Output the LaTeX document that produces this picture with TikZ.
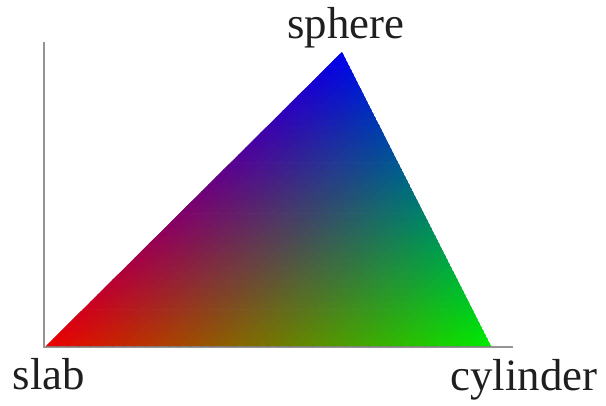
\documentclass[tikz,border=0pt]{standalone}
\usepackage{fontspec}
\setmainfont{Liberation Serif}
\begin{document}
\begin{tikzpicture}[x=1bp,y=-1bp,
  lbl/.style={font=\fontsize{45}{50}\selectfont, text=black!88, inner sep=0pt, anchor=base},
  axisline/.style={draw=black, draw opacity=0.42, line width=2.4bp},
  patch/.style={fill=tc, draw=tc, line width=0.9bp, line join=round}]
\useasboundingbox (0,0) rectangle (606,405);
\coordinate (slab) at (46,346);
\coordinate (cyl) at (491,346);
\coordinate (sph) at (342,52);
\coordinate (orig) at (44,347);
\coordinate (ytop) at (44,42);
\coordinate (xend) at (513,347);
\def\N{40}
% Gouraud-like shading by subdivision: slab = red, cylinder = green, sphere = blue
\begin{scope}[shift={(slab)}, x={(11.125bp,0bp)}, y={(7.4bp,7.35bp)}]
\clip (0,0) -- (40,0) -- (0,40) -- cycle;
\foreach \i in {0,...,39} {
  \pgfmathtruncatemacro\jmax{\N-1-\i}
  \foreach \j in {0,...,\jmax} {
    \pgfmathsetmacro\wb{(\i+1/3)/\N}
    \pgfmathsetmacro\wc{(\j+1/3)/\N}
    \pgfmathsetmacro\wa{max(0,1-\wb-\wc)}
    \pgfmathsetmacro\cr{0.93*\wa}
    \pgfmathsetmacro\cg{0.92*\wb}
    \pgfmathsetmacro\cb{0.92*\wc}
    \definecolor{tc}{rgb}{\cr,\cg,\cb}
    \path[patch] (\i,\j) -- (\i+1,\j) -- (\i,\j+1) -- cycle;
    \ifnum\j<\jmax
      \pgfmathsetmacro\wb{(\i+2/3)/\N}
      \pgfmathsetmacro\wc{(\j+2/3)/\N}
      \pgfmathsetmacro\wa{max(0,1-\wb-\wc)}
      \pgfmathsetmacro\cr{0.93*\wa}
      \pgfmathsetmacro\cg{0.92*\wb}
      \pgfmathsetmacro\cb{0.92*\wc}
      \definecolor{tc}{rgb}{\cr,\cg,\cb}
      \path[patch] (\i+1,\j) -- (\i+1,\j+1) -- (\i,\j+1) -- cycle;
    \fi
  }
}
\end{scope}
\draw[axisline] (ytop) -- (orig) -- (xend);
\node[lbl] (sphere) at (346,38) {sphere};
\node[lbl] (slablabel) at (49,389) {slab};
\node[lbl] (cylinderlabel) at (524,390) {cylinder};
\end{tikzpicture}
\end{document}
